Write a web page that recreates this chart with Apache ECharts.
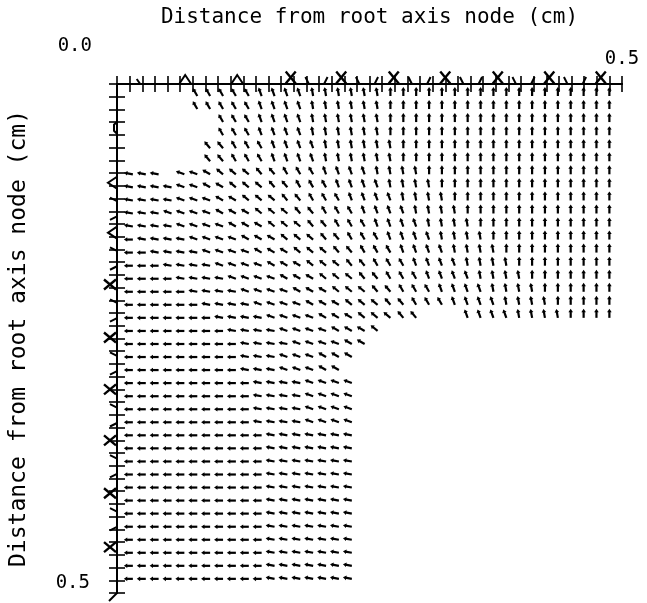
<!DOCTYPE html>
<html><head><meta charset="utf-8">
<script src="https://cdn.jsdelivr.net/npm/echarts@6/dist/echarts.min.js"></script>
<style>html,body{margin:0;padding:0;background:#fff}#c{width:647px;height:603px}</style>
</head><body><div id="c"></div>
<script>
// ---- data ----
const axisTitle = 'Distance from root axis node (cm)';
const tickStep = 0.0125;
// grid positions (cm) of the arrow tails
const colX = [0.0157,0.0285,0.0412,0.0540,0.0667,0.0795,0.0922,0.1050,0.1177,0.1305,0.1432,0.1560,0.1687,0.1815,0.1942,0.2070,0.2197,0.2325,0.2452,0.2580,0.2707,0.2835,0.2962,0.3090,0.3217,0.3345,0.3472,0.3600,0.3727,0.3855,0.3982,0.4110,0.4237,0.4365,0.4492,0.4620,0.4747,0.4875];
const rowY = [0.0118,0.0246,0.0374,0.0503,0.0631,0.0759,0.0887,0.1015,0.1144,0.1272,0.1400,0.1528,0.1656,0.1785,0.1913,0.2041,0.2169,0.2297,0.2426,0.2554,0.2682,0.2810,0.2938,0.3067,0.3195,0.3323,0.3451,0.3579,0.3708,0.3836,0.3964,0.4092,0.4220,0.4349,0.4477,0.4605,0.4733,0.4861];
// arrow direction per grid cell: digit d = d*10 degrees (0 = pointing left, 9 = pointing up), '.' = no arrow
const angleRows = [
  ".....666667777888888999999999999999999",
  ".....666667777888888999999999999999999",
  ".......6667777888888999999999999999999",
  ".......6667777888888999999999999999999",
  "......55666777788888899999999999999999",
  "......55666777788888899999999999999999",
  "111.2234445566677778888999999999999999",
  "11112233444556667777888899999999999999",
  "11112223344455666777788889999999999999",
  "11122223334445566677778888999999999999",
  "11112222333444556667777888899999999999",
  "01111222233344455666777788889999999999",
  "00111122223334445566677778888999999999",
  "00011112222333444556667777888899999999",
  "00001111222233344455666777788889999999",
  "00000111122223334445566677778888999999",
  "00000011112222333444556667777888899999",
  "00000001111222233344455...777788889999",
  "00000000111122223334..................",
  "0000000001111222233...................",
  "000000000111222333....................",
  "00000000011122233.....................",
  "000000000011112222....................",
  "000000000011112222....................",
  "000000000011112222....................",
  "000000000011112222....................",
  "000000000001111111....................",
  "000000000001111111....................",
  "000000000001111111....................",
  "000000000001111111....................",
  "000000000001111111....................",
  "000000000001111111....................",
  "000000000001111111....................",
  "000000000001111111....................",
  "000000000001111111....................",
  "000000000001111111....................",
  "000000000001111111....................",
  "000000000001111111...................."
];
// boundary glyphs on the top edge (x in cm) and left edge (y in cm)
const topMarkX    = [0.0215, 0.0675, 0.119, 0.172, 0.222, 0.274, 0.325, 0.377, 0.428, 0.479];
const topMarkKind = ['tick','caret','caret','x','x','x','x','x','x','x'];
const leftMarkY    = [0.043, 0.097, 0.146, 0.197, 0.249, 0.300, 0.350, 0.402, 0.455, 0.5];
const leftMarkKind = ['paren','caret','caret','x','x','x','x','x','x','slash'];
const topStrokeX    = [0.189,0.206,0.239,0.256,0.291,0.308,0.342,0.359,0.394,0.411,0.445,0.462];
const topStrokeLean = ['a','b','a','b','a','b','a','b','a','b','a','b'];
const leftStrokeY    = [0.114,0.131,0.163,0.180,0.214,0.231,0.266,0.283,0.317,0.334,0.367,0.384,0.419,0.436];
const leftStrokeLean = ['a','b','a','b','a','b','a','b','a','b','a','b','a','b'];

// ---- build series data ----
const arrows = [];
angleRows.forEach((row, r) => {
  for (let c = 0; c < row.length && c < colX.length; c++) {
    const ch = row[c];
    if (ch === '.') continue;
    arrows.push([colX[c], rowY[r], Number(ch) * 10]);
  }
});
const marks = [];
topMarkX.forEach((x, i) => marks.push({v: [x, 0], side: 'top', kind: topMarkKind[i]}));
leftMarkY.forEach((y, i) => marks.push({v: [0, y], side: 'left', kind: leftMarkKind[i]}));
topStrokeX.forEach((x, i) => marks.push({v: [x, 0], side: 'top', kind: 'stroke', lean: topStrokeLean[i]}));
leftStrokeY.forEach((y, i) => marks.push({v: [0, y], side: 'left', kind: 'stroke', lean: leftStrokeLean[i]}));

const FONT = '"DejaVu Sans Mono", monospace';
const INK = '#000';

function arrowItem(params, api) {
  const p = api.coord([api.value(0), api.value(1)]);
  const a = api.value(2) * Math.PI / 180;
  const L = 9, hl = 3.4, hw = 2.3;
  const dx = -Math.cos(a), dy = -Math.sin(a);
  const hx = p[0] + dx * L, hy = p[1] + dy * L;
  const bx = hx - dx * hl, by = hy - dy * hl;
  const nx = -dy, ny = dx;
  return {type: 'group', children: [
    {type: 'line', shape: {x1: p[0], y1: p[1], x2: bx + dx, y2: by + dy}, style: {stroke: INK, lineWidth: 2.2}},
    {type: 'polygon', shape: {points: [[hx, hy], [bx + nx * hw, by + ny * hw], [bx - nx * hw, by - ny * hw]]}, style: {fill: INK}}
  ]};
}
function pl(points, w) {
  return {type: 'polyline', shape: {points: points}, style: {stroke: INK, lineWidth: w || 2, fill: null}};
}
function markItem(params, api) {
  const m = marks[params.dataIndex];
  const p = api.coord(m.v);
  const x = p[0], y = p[1];
  let kids = [];
  if (m.side === 'top') {
    if (m.kind === 'x') {
      const cy = y - 6.5;
      kids = [pl([[x - 5, cy - 6], [x + 5, cy + 6]], 2.4), pl([[x + 5, cy - 6], [x - 5, cy + 6]], 2.4)];
    } else if (m.kind === 'caret') {
      kids = [pl([[x - 6, y], [x, y - 9], [x + 6, y]])];
    } else if (m.kind === 'tick') {
      kids = [pl([[x - 2, y - 5], [x + 1.5, y]])];
    } else {
      kids = m.lean === 'a' ? [pl([[x - 2.5, y - 7], [x + 1, y]])] : [pl([[x + 2.5, y - 7], [x - 1, y]])];
    }
  } else {
    if (m.kind === 'x') {
      const cx = x - 7;
      kids = [pl([[cx - 6, y - 5], [cx + 6, y + 5]], 2.4), pl([[cx - 6, y + 5], [cx + 6, y - 5]], 2.4)];
    } else if (m.kind === 'caret') {
      kids = [pl([[x, y - 6], [x - 9, y], [x, y + 6]])];
    } else if (m.kind === 'paren') {
      kids = [pl([[x, y - 6], [x - 3, y - 3], [x - 3, y + 3], [x, y + 6]])];
    } else if (m.kind === 'slash') {
      kids = [pl([[x, y], [x - 8, y + 8]])];
    } else {
      kids = m.lean === 'a' ? [pl([[x - 7, y - 2.5], [x, y + 1]])] : [pl([[x - 7, y + 2.5], [x, y - 1]])];
    }
  }
  return {type: 'group', children: kids};
}

const lineStyle = {color: INK, width: 2};
const tickStyle = {inside: true, length: 8, lineStyle: {color: INK, width: 1.6}};
const chart = echarts.init(document.getElementById('c'), null, {renderer: 'canvas'});
chart.setOption({
  animation: false,
  backgroundColor: '#fff',
  grid: {left: 111, top: 84, width: 511, height: 509},
  xAxis: [
    {type: 'value', min: 0, max: 0.5, interval: tickStep, position: 'top',
     name: axisTitle, nameLocation: 'middle', nameGap: 56,
     nameTextStyle: {fontFamily: FONT, fontSize: 21, color: INK},
     axisLine: {show: true, lineStyle: lineStyle}, axisTick: tickStyle, splitLine: {show: false},
     axisLabel: {margin: 15, fontFamily: FONT, fontSize: 19, color: INK, showMaxLabel: true,
                 formatter: v => Math.abs(v - 0.5) < 1e-6 ? '0.5' : ''}},
    {type: 'value', min: 0, max: 0.5, interval: tickStep, position: 'bottom',
     axisLine: {show: true, lineStyle: lineStyle}, axisTick: tickStyle, splitLine: {show: false},
     axisLabel: {show: false}}
  ],
  yAxis: [
    {type: 'value', min: 0, max: 0.5, interval: tickStep, inverse: true, position: 'left',
     name: axisTitle, nameLocation: 'middle', nameGap: 86, nameRotate: 90,
     nameTextStyle: {fontFamily: FONT, fontSize: 23, color: INK},
     axisLine: {show: true, lineStyle: lineStyle}, axisTick: tickStyle, splitLine: {show: false},
     axisLabel: {margin: 27, fontFamily: FONT, fontSize: 19, color: INK, showMaxLabel: true, verticalAlign: 'bottom',
                 formatter: v => Math.abs(v - 0.5) < 1e-6 ? '0.5' : ''}},
    {type: 'value', min: 0, max: 0.5, interval: tickStep, inverse: true, position: 'right',
     axisLine: {show: true, lineStyle: lineStyle}, axisTick: tickStyle, splitLine: {show: false},
     axisLabel: {show: false}}
  ],
  graphic: [
    {type: 'text', x: 92, y: 56, style: {text: '0.0', font: '19px ' + FONT, fill: INK, align: 'right', verticalAlign: 'bottom'}}
  ],
  series: [
    {type: 'custom', xAxisIndex: 0, yAxisIndex: 0, renderItem: arrowItem, data: arrows, clip: false, silent: true},
    {type: 'custom', xAxisIndex: 0, yAxisIndex: 0, renderItem: markItem, data: marks.map(m => m.v), clip: false, silent: true}
  ]
});
</script></body></html>
